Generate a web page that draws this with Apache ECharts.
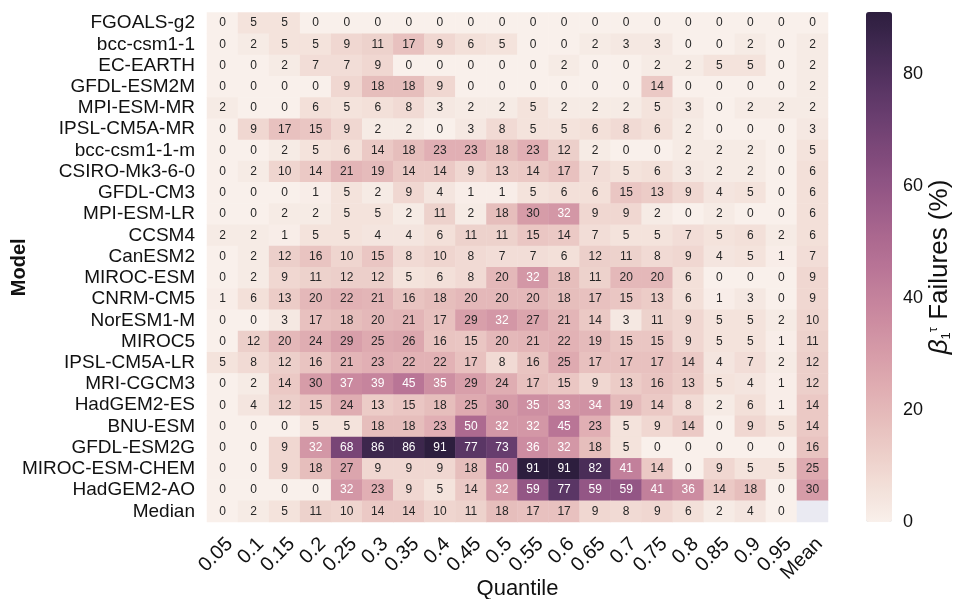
<!DOCTYPE html>
<html>
<head>
<meta charset="utf-8">
<script src="https://cdn.jsdelivr.net/npm/echarts@6/dist/echarts.min.js"></script>
<style>
html,body{margin:0;padding:0;background:#ffffff;}
#chart{width:954px;height:599px;}
</style>
</head>
<body>
<div id="chart"></div>
<script>
// ---------------- data ----------------
const models = [
  'FGOALS-g2','bcc-csm1-1','EC-EARTH','GFDL-ESM2M','MPI-ESM-MR','IPSL-CM5A-MR',
  'bcc-csm1-1-m','CSIRO-Mk3-6-0','GFDL-CM3','MPI-ESM-LR','CCSM4','CanESM2',
  'MIROC-ESM','CNRM-CM5','NorESM1-M','MIROC5','IPSL-CM5A-LR','MRI-CGCM3',
  'HadGEM2-ES','BNU-ESM','GFDL-ESM2G','MIROC-ESM-CHEM','HadGEM2-AO','Median'
];
const quantiles = ['0.05','0.1','0.15','0.2','0.25','0.3','0.35','0.4','0.45','0.5',
  '0.55','0.6','0.65','0.7','0.75','0.8','0.85','0.9','0.95','Mean'];
// failure percentages, one row per model (null = no value)
const failures = [
  [0,5,5,0,0,0,0,0,0,0,0,0,0,0,0,0,0,0,0,0],
  [0,2,5,5,9,11,17,9,6,5,0,0,2,3,3,0,0,2,0,2],
  [0,0,2,7,7,9,0,0,0,0,0,2,0,0,2,2,5,5,0,2],
  [0,0,0,0,9,18,18,9,0,0,0,0,0,0,14,0,0,0,0,2],
  [2,0,0,6,5,6,8,3,2,2,5,2,2,2,5,3,0,2,2,2],
  [0,9,17,15,9,2,2,0,3,8,5,5,6,8,6,2,0,0,0,3],
  [0,0,2,5,6,14,18,23,23,18,23,12,2,0,0,2,2,2,0,5],
  [0,2,10,14,21,19,14,14,9,13,14,17,7,5,6,3,2,2,0,6],
  [0,0,0,1,5,2,9,4,1,1,5,6,6,15,13,9,4,5,0,6],
  [0,0,2,2,5,5,2,11,2,18,30,32,9,9,2,0,2,0,0,6],
  [2,2,1,5,5,4,4,6,11,11,15,14,7,5,5,7,5,6,2,6],
  [0,2,12,16,10,15,8,10,8,7,7,6,12,11,8,9,4,5,1,7],
  [0,2,9,11,12,12,5,6,8,20,32,18,11,20,20,6,0,0,0,9],
  [1,6,13,20,22,21,16,18,20,20,20,18,17,15,13,6,1,3,0,9],
  [0,0,3,17,18,20,21,17,29,32,27,21,14,3,11,9,5,5,2,10],
  [0,12,20,24,29,25,26,16,15,20,21,22,19,15,15,9,5,5,1,11],
  [5,8,12,16,21,23,22,22,17,8,16,25,17,17,17,14,4,7,2,12],
  [0,2,14,30,37,39,45,35,29,24,17,15,9,13,16,13,5,4,1,12],
  [0,4,12,15,24,13,15,18,25,30,35,33,34,19,14,8,2,6,1,14],
  [0,0,0,5,5,18,18,23,50,32,32,45,23,5,9,14,0,9,5,14],
  [0,0,9,32,68,86,86,91,77,73,36,32,18,5,0,0,0,0,0,16],
  [0,0,9,18,27,9,9,9,18,50,91,91,82,41,14,0,9,5,5,25],
  [0,0,0,0,32,23,9,5,14,32,59,77,59,59,41,36,14,18,0,30],
  [0,2,5,11,10,14,14,10,11,18,17,17,9,8,9,6,2,4,0,null]
];
const colorbarTicks = [0,20,40,60,80];
const colorMin = 0;
const colorMax = 91;

// ---------------- colour map (seaborn cubehelix, start=0, rot=.4, hue=.8, light=.95, dark=.15) ----------------
function cubehelix(x){
  const a = 0.8 * x * (1 - x) / 2;
  const phi = 2 * Math.PI * (0.4 * x);
  const c = Math.cos(phi), s = Math.sin(phi);
  const r = x + a * (-0.14861 * c + 1.78277 * s);
  const g = x + a * (-0.29227 * c - 0.90649 * s);
  const b = x + a * (1.97294 * c);
  return [r, g, b].map(v => Math.round(Math.min(1, Math.max(0, v)) * 255));
}
function cmap(t){ return cubehelix(0.95 - 0.8 * t); }
const stops = [];
for (let i = 0; i <= 40; i++) { stops.push('rgb(' + cmap(i / 40).join(',') + ')'); }
function luminance(rgb){
  const l = rgb.map(v => { v /= 255; return v <= 0.03928 ? v / 12.92 : Math.pow((v + 0.055) / 1.055, 2.4); });
  return 0.2126 * l[0] + 0.7152 * l[1] + 0.0722 * l[2];
}

const cells = [];
const emptyCells = [];
failures.forEach((row, yi) => row.forEach((v, xi) => {
  if (v === null) { emptyCells.push([xi, yi, 0]); return; }
  const col = cmap((v - colorMin) / (colorMax - colorMin));
  cells.push({ value: [xi, yi, v], label: { color: luminance(col) > 0.408 ? '#262626' : '#ffffff' } });
}));

const FONT = "'Liberation Sans', Arial, Helvetica, sans-serif";
const TXT = '#111111';

const chart = echarts.init(document.getElementById('chart'), null, { renderer: 'canvas' });
chart.setOption({
  animation: false,
  backgroundColor: '#ffffff',
  textStyle: { fontFamily: FONT },
  grid: [
    { left: 207, top: 12.5, width: 621, height: 509.5, containLabel: false, outerBoundsMode: 'none' },
    { left: 866, top: 12, width: 26, height: 510, containLabel: false, outerBoundsMode: 'none' }
  ],
  xAxis: [
    {
      type: 'category', gridIndex: 0, data: quantiles,
      axisLine: { show: false }, axisTick: { show: false }, splitLine: { show: false },
      axisLabel: { interval: 0, rotate: 45, fontSize: 20, color: TXT, margin: 12, verticalAlign: 'top', fontFamily: FONT },
      name: 'Quantile', nameLocation: 'middle', nameGap: 56, nameMoveOverlap: false,
      nameTextStyle: { fontSize: 22, color: TXT, fontFamily: FONT }
    },
    { type: 'value', gridIndex: 1, show: false, min: 0, max: 1 }
  ],
  yAxis: [
    {
      type: 'category', gridIndex: 0, data: models, inverse: true,
      axisLine: { show: false }, axisTick: { show: false }, splitLine: { show: false },
      axisLabel: { interval: 0, fontSize: 19, color: TXT, margin: 12, fontFamily: FONT },
      name: 'Model', nameLocation: 'middle', nameGap: 178, nameMoveOverlap: false,
      nameTextStyle: { fontSize: 20, fontWeight: 'bold', color: TXT, fontFamily: FONT }
    },
    {
      type: 'value', gridIndex: 1, min: colorMin, max: colorMax, interval: 20, position: 'right',
      axisLine: { show: false }, axisTick: { show: false }, splitLine: { show: false },
      axisLabel: { fontSize: 18, color: TXT, margin: 11, showMaxLabel: false, fontFamily: FONT,
        formatter: v => colorbarTicks.indexOf(v) >= 0 ? String(v) : '' },
      name: '{b|β}{s|1}{t|τ} Failures (%)', nameLocation: 'middle', nameGap: 35, nameRotate: 90, nameMoveOverlap: false,
      nameTextStyle: {
        fontSize: 26, color: TXT, fontFamily: FONT,
        rich: {
          b: { fontSize: 26, fontStyle: 'italic', color: TXT, fontFamily: FONT },
          s: { fontSize: 13, color: TXT, verticalAlign: 'bottom', padding: [10, 0, 0, 0], fontFamily: FONT },
          t: { fontSize: 13, color: TXT, verticalAlign: 'top', padding: [0, 0, 12, 0], fontFamily: FONT }
        }
      }
    }
  ],
  visualMap: {
    type: 'continuous', seriesIndex: 0, min: colorMin, max: colorMax,
    calculable: false, hoverLink: false, orient: 'vertical',
    left: 866, top: 12, itemWidth: 26, itemHeight: 510, padding: 0,
    text: null, showLabel: false,
    inRange: { color: stops }
  },
  series: [
    {
      type: 'heatmap', xAxisIndex: 0, yAxisIndex: 0, data: cells,
      itemStyle: { borderWidth: 0 },
      label: { show: true, fontSize: 12, fontFamily: FONT, formatter: p => String(p.value[2]) },
      emphasis: { disabled: true }
    },
    {
      type: 'heatmap', xAxisIndex: 0, yAxisIndex: 0, data: emptyCells,
      itemStyle: { color: '#EAEAF2', borderWidth: 0 },
      label: { show: false },
      emphasis: { disabled: true }
    },
    { type: 'scatter', xAxisIndex: 1, yAxisIndex: 1, data: [], silent: true }
  ]
});
</script>
</body>
</html>
